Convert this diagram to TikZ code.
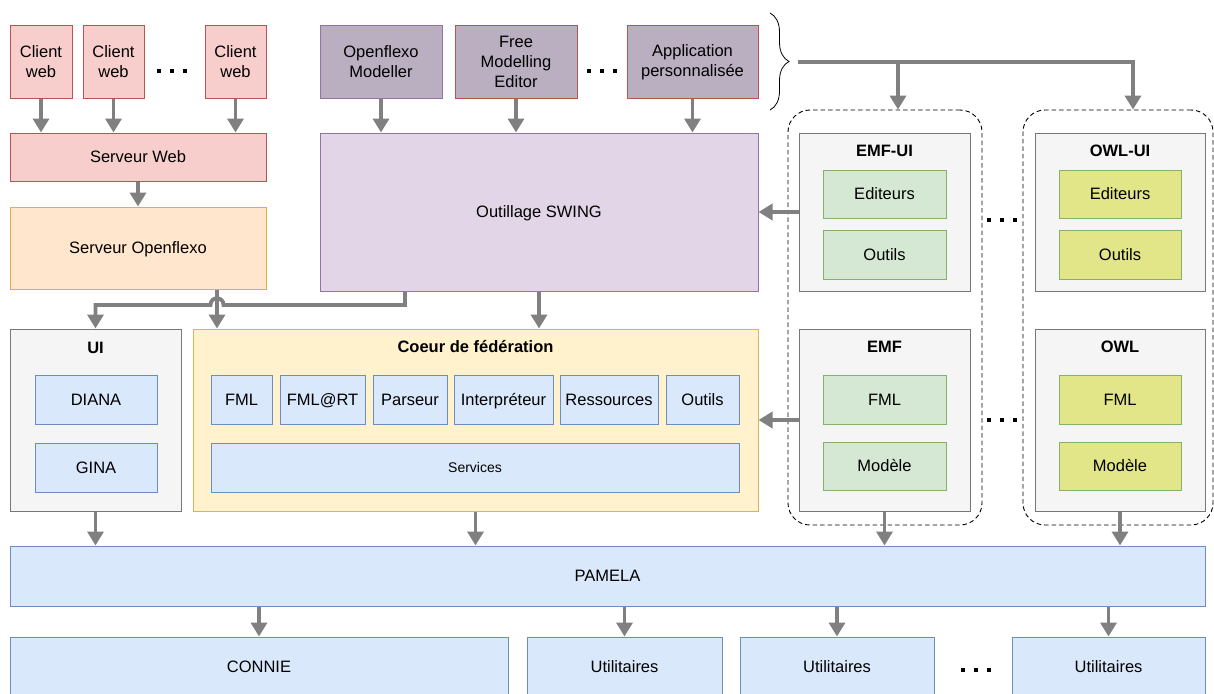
\documentclass[tikz,border=0pt]{standalone}
\usepackage{fontspec}
\setmainfont{Liberation Sans}
\usetikzlibrary{arrows.meta,decorations.pathreplacing}

\definecolor{webfill}{HTML}{F8CECC}
\definecolor{webdraw}{HTML}{B85450}
\definecolor{appfill}{HTML}{B9AFC0}
\definecolor{swingfill}{HTML}{E1D5E7}
\definecolor{swingdraw}{HTML}{9673A6}
\definecolor{offill}{HTML}{FFE6CC}
\definecolor{ofdraw}{HTML}{E0B040}
\definecolor{corefill}{HTML}{FFF2CC}
\definecolor{coredraw}{HTML}{D6B656}
\definecolor{grayfill}{HTML}{F5F5F5}
\definecolor{graydraw}{HTML}{777777}
\definecolor{bluefill}{HTML}{DAE8FC}
\definecolor{bluedraw}{HTML}{6C8EBF}
\definecolor{greenfill}{HTML}{D5E8D4}
\definecolor{greendraw}{HTML}{82B366}
\definecolor{owlfill}{HTML}{E2E588}
\definecolor{arrowgray}{HTML}{808080}

\begin{document}
\begin{tikzpicture}[x=1pt, y=-1pt,
    box/.style={draw, rectangle, inner sep=0pt, align=center, line width=1pt,
        font=\fontsize{16.5}{20}\selectfont, text height=14pt, text depth=2.5pt},
    multi/.style={text height=, text depth=},
    webbox/.style={box, fill=webfill, draw=webdraw},
    appbox/.style={box, fill=appfill, draw=swingdraw},
    swingbox/.style={box, fill=swingfill, draw=swingdraw},
    ofbox/.style={box, fill=offill, draw=ofdraw},
    corebox/.style={box, fill=corefill, draw=coredraw},
    graybox/.style={box, fill=grayfill, draw=graydraw},
    bluebox/.style={box, fill=bluefill, draw=bluedraw},
    greenbox/.style={box, fill=greenfill, draw=greendraw},
    owlbox/.style={box, fill=owlfill, draw=greendraw},
    grpbox/.style={draw, rectangle, rounded corners=22pt, dash pattern=on 4.5pt off 3pt,
        line width=0.9pt, inner sep=0pt},
    titletext/.style={font=\fontsize{16.5}{20}\selectfont\bfseries, inner sep=0pt},
    arr/.style={draw=arrowgray, line width=3.8pt, -{Triangle[length=14pt,width=16pt]}},
    plainline/.style={draw=arrowgray, line width=3.8pt}]

    \useasboundingbox (0,0) rectangle (1214,693);
    \clip (0,0) rectangle (1214,693);

    % Dashed groups
    \node[grpbox, minimum width=194pt, minimum height=415pt] (grpemf) at (885,317.5) {};
    \node[grpbox, minimum width=190pt, minimum height=415pt] (grpowl) at (1118,317.5) {};

    % Web side
    \node[webbox, multi, minimum width=62pt, minimum height=73pt] (cw1) at (41,62) {Client\\web};
    \node[webbox, multi, minimum width=61pt, minimum height=73pt] (cw2) at (113.5,62) {Client\\web};
    \node[webbox, multi, minimum width=61pt, minimum height=73pt] (cw3) at (235.5,62) {Client\\web};
    \node[webbox, minimum width=256pt, minimum height=48pt] (srvweb) at (138,157) {Serveur Web};
    \node[ofbox, minimum width=256pt, minimum height=82pt] (srvof) at (138,248) {Serveur Openflexo};

    % Applications
    \node[appbox, multi, minimum width=122pt, minimum height=73pt] (ofm) at (381,62) {Openflexo\\Modeller};
    \node[appbox, multi, draw=webdraw, minimum width=122pt, minimum height=73pt] (fme) at (516,62) {Free\\Modelling\\Editor};
    \node[appbox, multi, draw=webdraw, minimum width=131pt, minimum height=73pt] (app) at (692.5,62) {Application\\personnalisée};
    \node[swingbox, minimum width=438pt, minimum height=158pt] (swing) at (539,212) {Outillage SWING};

    % UI
    \node[graybox, minimum width=171pt, minimum height=182pt] (ui) at (95.5,420) {};
    \node[titletext] (uit) at ([yshift=-19pt]ui.north) {UI};
    \node[bluebox, minimum width=122pt, minimum height=49pt] (diana) at (96,399.5) {DIANA};
    \node[bluebox, minimum width=122pt, minimum height=49pt] (gina) at (96,467.5) {GINA};

    % Coeur de federation
    \node[corebox, minimum width=565pt, minimum height=182pt] (coeur) at (475.5,420) {};
    \node[titletext] (coeurt) at ([yshift=-18pt]coeur.north) {Coeur de fédération};
    \node[bluebox, minimum width=61pt, minimum height=49pt] (fml) at (241.5,399.5) {FML};
    \node[bluebox, minimum width=85pt, minimum height=49pt] (fmlrt) at (322.5,399.5) {FML@RT};
    \node[bluebox, minimum width=74pt, minimum height=49pt] (pars) at (410,399.5) {Parseur};
    \node[bluebox, minimum width=99pt, minimum height=49pt] (interp) at (503.5,399.5) {Interpréteur};
    \node[bluebox, minimum width=98pt, minimum height=49pt] (ress) at (609,399.5) {Ressources};
    \node[bluebox, minimum width=73pt, minimum height=49pt] (outc) at (702.5,399.5) {Outils};
    \node[bluebox, minimum width=528pt, minimum height=49pt, font=\fontsize{14}{17}\selectfont,
        text height=12pt, text depth=2pt] (serv) at (475,467.5) {Services};

    % EMF
    \node[graybox, minimum width=171pt, minimum height=158pt] (emfui) at (884.5,212) {};
    \node[titletext] (emfuit) at ([yshift=-18pt]emfui.north) {EMF-UI};
    \node[greenbox, minimum width=123pt, minimum height=48pt] (emfed) at (884.5,194) {Editeurs};
    \node[greenbox, minimum width=123pt, minimum height=49pt] (emfout) at (884.5,254.5) {Outils};
    \node[graybox, minimum width=171pt, minimum height=182pt] (emf) at (884.5,420) {};
    \node[titletext] (emft) at ([yshift=-18pt]emf.north) {EMF};
    \node[greenbox, minimum width=123pt, minimum height=49pt] (emffml) at (884.5,399.5) {FML};
    \node[greenbox, minimum width=123pt, minimum height=48pt] (emfmod) at (884.5,466) {Modèle};

    % OWL
    \node[graybox, minimum width=170pt, minimum height=158pt] (owlui) at (1120,212) {};
    \node[titletext] (owluit) at ([yshift=-18pt]owlui.north) {OWL-UI};
    \node[owlbox, minimum width=122pt, minimum height=48pt] (owled) at (1120,194) {Editeurs};
    \node[owlbox, minimum width=122pt, minimum height=49pt] (owlout) at (1120,254.5) {Outils};
    \node[graybox, minimum width=170pt, minimum height=182pt] (owl) at (1120,420) {};
    \node[titletext] (owlt) at ([yshift=-18pt]owl.north) {OWL};
    \node[owlbox, minimum width=122pt, minimum height=49pt] (owlfml) at (1120,399.5) {FML};
    \node[owlbox, minimum width=122pt, minimum height=48pt] (owlmod) at (1120,466) {Modèle};

    % PAMELA and below
    \node[bluebox, minimum width=1195pt, minimum height=60pt] (pamela) at (607.5,576) {PAMELA};
    \node[bluebox, minimum width=498pt, minimum height=60pt] (connie) at (259,667) {CONNIE};
    \node[bluebox, minimum width=195pt, minimum height=60pt] (util1) at (624.5,667) {Utilitaires};
    \node[bluebox, minimum width=194pt, minimum height=60pt] (util2) at (837,667) {Utilitaires};
    \node[bluebox, minimum width=193pt, minimum height=60pt] (util3) at (1108.5,667) {Utilitaires};

    % Dots
    \foreach \x/\y in {172/71, 602/71, 1002/220, 1002/420, 976/670}
        \foreach \d in {0,13,26}
            \fill (\x-13+\d-2.3,\y-2.3) rectangle (\x-13+\d+2.3,\y+2.3);

    % Brace
    \draw[decorate, decoration={brace, amplitude=19pt}, line width=0.8pt] (770,13) -- (770,110);
    \coordinate (brc) at (798,62);
    \coordinate (emfin) at ([xshift=13pt]grpemf.north);
    \coordinate (owlin) at ([xshift=15pt]grpowl.north);
    \draw[arr] (brc) -| (owlin);
    \draw[arr] (brc -| emfin) -- (emfin);

    % Arrows, top part
    \draw[arr] (cw1) -- (cw1 |- srvweb.north);
    \draw[arr] (cw2) -- (cw2 |- srvweb.north);
    \draw[arr] (cw3) -- (cw3 |- srvweb.north);
    \draw[arr] (srvweb) -- (srvof);
    \draw[arr] (ofm) -- (ofm |- swing.north);
    \draw[arr] (fme) -- (fme |- swing.north);
    \draw[arr] (app) -- (app |- swing.north);

    % Arrows into the core and UI
    \coordinate (hop) at (217,305);
    \draw[arr] (srvof.south -| hop) -- (coeur.north -| hop);
    \draw[arr] ([xshift=-134pt]swing.south) |- ([xshift=6.5pt]hop)
        .. controls ([xshift=6.5pt,yshift=9pt]hop) and ([xshift=-6.5pt,yshift=9pt]hop) .. ([xshift=-6.5pt]hop)
        -| (ui.north);
    \draw[arr] (swing) -- (swing |- coeur.north);
    \draw[arr] (emfui.west) -- (emfui.west -| swing.east);
    \draw[arr] (emf.west) -- (emf.west -| coeur.east);

    % Arrows into PAMELA
    \draw[arr] (ui.south) -- (ui.south |- pamela.north);
    \draw[arr] (coeur.south) -- (coeur.south |- pamela.north);
    \draw[arr] (emf.south) -- (emf.south |- pamela.north);
    \draw[arr] (owl.south) -- (owl.south |- pamela.north);

    % Arrows out of PAMELA
    \draw[arr] (pamela.south -| connie) -- (connie.north);
    \draw[arr] (pamela.south -| util1) -- (util1.north);
    \draw[arr] (pamela.south -| util2) -- (util2.north);
    \draw[arr] (pamela.south -| util3) -- (util3.north);
\end{tikzpicture}
\end{document}
